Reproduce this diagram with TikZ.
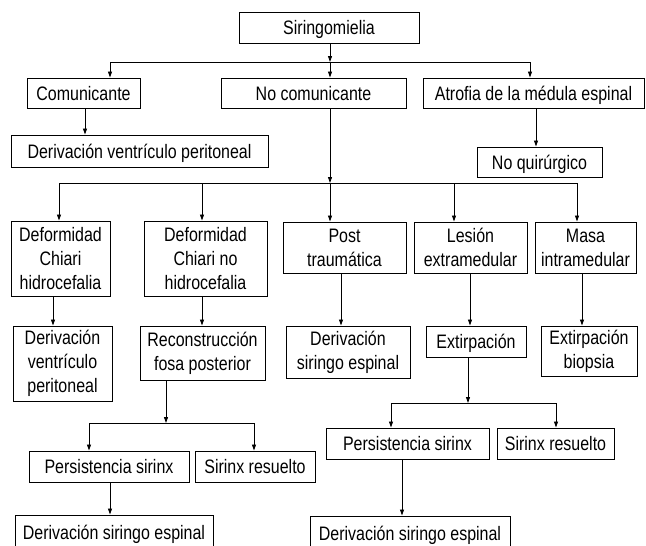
\documentclass[tikz,border=0pt]{standalone}
\usepackage{fontspec}
\setmainfont{Liberation Sans}[FakeStretch=0.82]
\usetikzlibrary{arrows.meta}

\newcommand\chartfont{\fontsize{19.5}{24}\selectfont}

\tikzset{
  box/.style={draw, line width=1pt, inner sep=0pt, align=center, font=\chartfont},
  one/.style={text height=14pt, text depth=0pt},
  flow/.style={line width=0.9pt, -{Triangle[length=6pt,width=4pt]}},
  link/.style={line width=0.9pt}
}

\begin{document}
\begin{tikzpicture}[x=1pt,y=-1pt]
  \useasboundingbox (0,0) rectangle (646,546);
  \clip (0,0) rectangle (646,546);

  % first level
  \node[box, one, minimum width=180pt, minimum height=31pt] (sir) at (329,27.5) {Siringomielia};
  \node[box, one, minimum width=113pt, minimum height=30pt] (com) at (83.5,93) {Comunicante};
  \node[box, one, minimum width=185pt, minimum height=30pt] (nocom) at (313.5,93) {No comunicante};
  \node[box, one, minimum width=221pt, minimum height=30pt] (atr) at (533.5,93) {Atrofia de la médula espinal};
  \node[box, one, minimum width=257pt, minimum height=32pt] (dvp) at (139.5,151) {Derivación ventrículo peritoneal};
  \node[box, one, minimum width=125pt, minimum height=30pt] (noq) at (539.5,162) {No quirúrgico};

  % causes
  \node[box, minimum width=99pt, minimum height=75pt] (dch) at (60.5,258.5) {Deformidad\\Chiari\\hidrocefalia};
  \node[box, minimum width=123pt, minimum height=75pt] (dcn) at (205.5,258.5) {Deformidad\\Chiari no\\hidrocefalia};
  \node[box, minimum width=123pt, minimum height=51pt] (post) at (344.5,247.5) {Post\\traumática};
  \node[box, minimum width=113pt, minimum height=51pt] (les) at (470.5,247.5) {Lesión\\extramedular};
  \node[box, minimum width=101pt, minimum height=51pt] (mas) at (585.5,247.5) {Masa\\intramedular};

  % treatments
  \node[box, minimum width=99pt, minimum height=75pt] (dvpb) at (62.5,363.5) {Derivación\\ventrículo\\peritoneal};
  \node[box, minimum width=125pt, minimum height=54pt] (rec) at (202.5,353) {Reconstrucción\\fosa posterior};
  \node[box, minimum width=124pt, minimum height=52pt] (dsm) at (348,352) {Derivación\\siringo espinal};
  \node[box, one, minimum width=100pt, minimum height=31pt] (ext) at (476,341.5) {Extirpación};
  \node[box, minimum width=96pt, minimum height=50pt] (ebi) at (589,351) {Extirpación\\biopsia};

  % outcomes
  \node[box, one, minimum width=160pt, minimum height=31pt] (psa) at (109,466.5) {Persistencia sirinx};
  \node[box, one, minimum width=120pt, minimum height=31pt] (sra) at (255,466.5) {Sirinx resuelto};
  \node[box, one, minimum width=198pt, minimum height=34pt] (dsa) at (114,532) {Derivación siringo espinal};
  \node[box, one, minimum width=163pt, minimum height=31pt] (psb) at (407.5,443.5) {Persistencia sirinx};
  \node[box, one, minimum width=117pt, minimum height=31pt] (srb) at (555.5,443.5) {Sirinx resuelto};
  \node[box, one, minimum width=200pt, minimum height=34pt] (dsb) at (410,533) {Derivación siringo espinal};

  % top split
  \coordinate (ta) at (330,62);
  \coordinate (ta1) at (110,62);
  \coordinate (ta2) at (530,62);
  \draw[flow] (sir.south -| ta) -- (ta);
  \draw[link] (ta1) -- (ta2);
  \draw[flow] (ta1) -- (ta1 |- com.north);
  \draw[flow] (ta) -- (ta |- nocom.north);
  \draw[flow] (ta2) -- (ta2 |- atr.north);
  \draw[flow] (com.south -| 85,0) -- (dvp.north -| 85,0);
  \draw[flow] (atr.south -| 536,0) -- (noq.north -| 536,0);

  % non communicating split
  \coordinate (tb) at (330,183);
  \coordinate (tb1) at (59,183);
  \coordinate (tb2) at (577,183);
  \draw[flow] (nocom.south -| tb) -- (tb);
  \draw[link] (tb1) -- (tb2);
  \foreach \n/\x in {dch/59, dcn/202, post/330, les/454, mas/577}
    \draw[flow] (\x,183) -- (\n.north -| \x,0);

  \draw[flow] (dch.south -| 53,0) -- (dvpb.north -| 53,0);
  \draw[flow] (dcn.south -| 202,0) -- (rec.north -| 202,0);
  \draw[flow] (post.south -| 341,0) -- (dsm.north -| 341,0);
  \draw[flow] (les.south -| 470,0) -- (ext.north -| 470,0);
  \draw[flow] (mas.south -| 582,0) -- (ebi.north -| 582,0);

  % after reconstruction
  \coordinate (tc) at (166,423);
  \coordinate (tc1) at (89,423);
  \coordinate (tc2) at (254,423);
  \draw[flow] (rec.south -| tc) -- (tc);
  \draw[link] (tc1) -- (tc2);
  \draw[flow] (tc1) -- (tc1 |- psa.north);
  \draw[flow] (tc2) -- (tc2 |- sra.north);
  \draw[flow] (psa.south -| 110,0) -- (dsa.north -| 110,0);

  % after extirpation
  \coordinate (td) at (468,403);
  \coordinate (td1) at (391,403);
  \coordinate (td2) at (556,403);
  \draw[flow] (ext.south -| td) -- (td);
  \draw[link] (td1) -- (td2);
  \draw[flow] (td1) -- (td1 |- psb.north);
  \draw[flow] (td2) -- (td2 |- srb.north);
  \draw[flow] (psb.south -| 402,0) -- (dsb.north -| 402,0);
\end{tikzpicture}
\end{document}
